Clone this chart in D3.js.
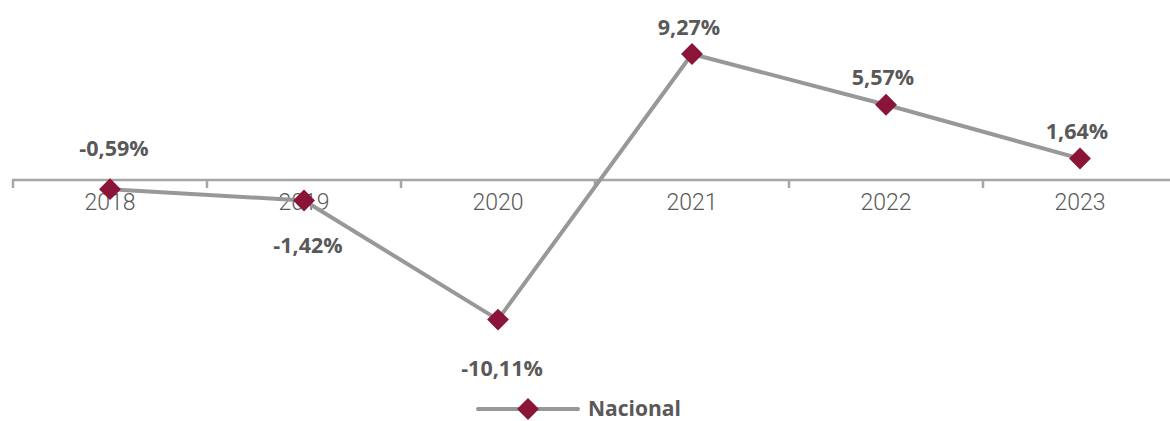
<!DOCTYPE html>
<html><head><meta charset="utf-8">
<script src="https://cdn.jsdelivr.net/npm/d3@7"></script>
<style>body{margin:0;background:#fff}svg{display:block}</style>
</head><body>
<script>
const years = ["2018","2019","2020","2021","2022","2023"];
const values = [-0.59, -1.42, -10.11, 9.27, 5.57, 1.64];
const labels = ["-0,59%","-1,42%","-10,11%","9,27%","5,57%","1,64%"];
const labelSide = ["above","below","below","above","above","above"];
const seriesName = "Nacional";

const W = 1170, H = 421;
const svg = d3.select("body").append("svg").attr("width", W).attr("height", H);
const x = d3.scaleBand().domain(years).range([13, 1177]);
const y = d3.scaleLinear().domain([-12, 10]).range([345.5, 44]);
const grey = "#595959", lineC = "#989898", mark = "#8B1538";

// axis at zero
const ax = svg.append("g").attr("transform", `translate(0,${y(0)-1})`)
  .call(d3.axisBottom(x).tickSize(0).tickPadding(14));
ax.select(".domain").remove();
ax.append("line").attr("x1", 12).attr("x2", W).attr("y1", 0).attr("y2", 0)
  .attr("stroke", "#A6A6A6").attr("stroke-width", 2.5);
const bounds = years.map(d => x(d)).concat([x(years[years.length-1]) + x.bandwidth()]);
ax.selectAll(".tk").data(bounds).enter().append("line")
  .attr("x1", d => d).attr("x2", d => d).attr("y1", 0).attr("y2", 8)
  .attr("stroke", "#A6A6A6").attr("stroke-width", 2.5);
ax.selectAll(".tick text").attr("font-family", "Roboto").attr("font-weight", 300)
  .attr("font-size", 23).attr("fill", grey).attr("dy", "0.71em");

const cx = d => x(d) + x.bandwidth() / 2;
const pts = years.map((d, i) => [cx(d), y(values[i])]);
svg.append("path").attr("d", d3.line()(pts)).attr("fill", "none")
  .attr("stroke", lineC).attr("stroke-width", 4).attr("stroke-linejoin", "round");

const diamond = d3.symbol().type(d3.symbolSquare).size(240);
svg.selectAll(".m").data(pts).enter().append("path")
  .attr("d", diamond).attr("fill", mark)
  .attr("transform", d => `translate(${d[0]},${d[1]}) rotate(45)`);

const nudge = {"2018": -14, "2019": 7, "2020": 11};
svg.selectAll(".lbl").data(years).enter().append("text")
  .attr("x", (d, i) => cx(d) + (i < 3 ? 4 : -3))
  .attr("y", (d, i) => y(values[i]) + (labelSide[i] === "above" ? -27 : 38) + (nudge[d] || 0))
  .attr("dy", "0.35em").attr("text-anchor", "middle")
  .attr("font-family", "Open Sans").attr("font-weight", 700).attr("font-size", 21.5)
  .attr("fill", grey).text((d, i) => labels[i]);

// legend
const lg = svg.append("g").attr("transform", "translate(478,409)");
lg.append("line").attr("x1", 0).attr("x2", 100).attr("stroke", lineC).attr("stroke-width", 4).attr("stroke-linecap", "round");
lg.append("path").attr("d", diamond).attr("fill", mark).attr("transform", "translate(50,0) rotate(45)");
lg.append("text").attr("x", 110).attr("dy", "0.35em").attr("font-family", "Open Sans")
  .attr("font-weight", 700).attr("font-size", 21).attr("fill", grey).text(seriesName);
</script>
</body></html>
